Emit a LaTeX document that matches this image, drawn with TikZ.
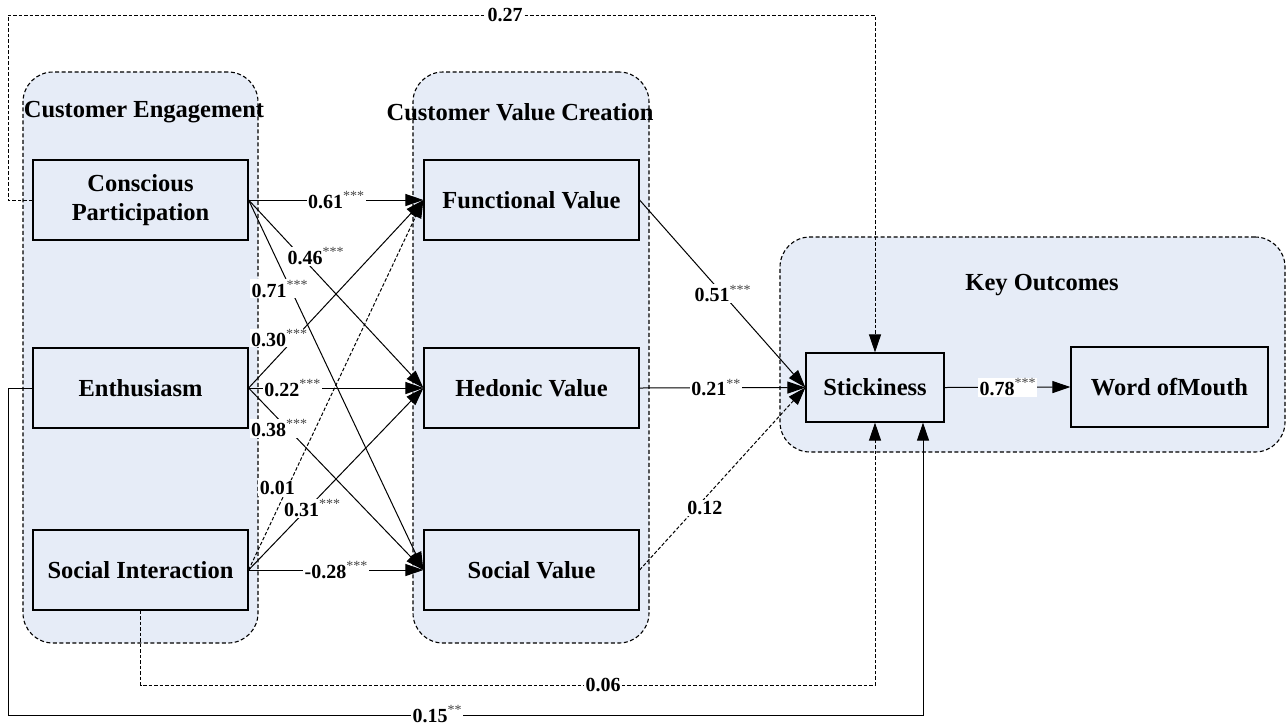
\documentclass[tikz,border=0pt]{standalone}
\usepackage{fontspec}
\setmainfont{Liberation Serif}
\usetikzlibrary{arrows.meta}
\definecolor{grpfill}{RGB}{230,236,247}
\definecolor{stargray}{RGB}{70,70,70}
\newcommand{\sg}[1]{\raisebox{7.5pt}{\fontsize{14}{14}\selectfont\mdseries\color{stargray}#1}}
\begin{document}
\begin{tikzpicture}[x=1pt,y=-1pt,
  grpbox/.style={draw, line width=1.1pt, dash pattern=on 4pt off 2.5pt, fill=grpfill, rounded corners=30pt, inner sep=0pt},
  grptitle/.style={font=\fontsize{24.5}{29}\selectfont\bfseries, inner sep=0pt},
  varbox/.style={draw, line width=1.2pt, fill=grpfill, minimum width=215pt, minimum height=80pt, font=\fontsize{24.5}{29}\selectfont\bfseries, align=center, inner sep=0pt},
  conn/.style={line width=1pt, -{Triangle[length=18pt,width=12pt]}},
  dconn/.style={conn, dash pattern=on 3.5pt off 2pt},
  lbl/.style={fill=white, inner xsep=1.5pt, inner ysep=1pt, font=\fontsize{20}{24}\selectfont\bfseries},
]
\useasboundingbox (0,0) rectangle (1287,724);

% groups
\node[grpbox, minimum width=235pt, minimum height=571pt] (gce) at (140.5,357.5) {};
\node[grpbox, minimum width=236pt, minimum height=571pt] (gcvc) at (531,357.5) {};
\node[grpbox, minimum width=505pt, minimum height=215pt] (gko) at (1032.5,344.5) {};

% group titles
\node[grptitle] (tce) at (144,112) {Customer Engagement};
\node[grptitle] (tcvc) at (520,112) {Customer Value Creation};
\node[grptitle] (tko) at (1042,285) {Key Outcomes};

% variables
\node[varbox] (cp) at (140.5,200) {Conscious\\Participation};
\node[varbox] (en) at (140.5,388) {Enthusiasm};
\node[varbox] (si) at (140.5,570) {Social Interaction};
\node[varbox] (fv) at (531.5,200) {Functional Value};
\node[varbox] (hv) at (531.5,388) {Hedonic Value};
\node[varbox] (sv) at (531.5,570) {Social Value};
\node[varbox, minimum width=138pt, minimum height=69pt] (st) at (875,387.5) {Stickiness};
\node[varbox, minimum width=197pt, minimum height=80pt] (wm) at (1169.5,387) {Word ofMouth};

% helper coordinates
\coordinate (ctop) at (8,15);
\coordinate (cbot) at (8,715);
\coordinate (c06) at (si.south |- 0,685);
\coordinate (st2) at ([xshift=48pt]st.south);

% connectors
\draw[conn] (cp.east) -- (fv.west);
\draw[conn] (cp.east) -- (hv.west);
\draw[conn] (cp.east) -- (sv.west);
\draw[conn] (en.east) -- (fv.west);
\draw[conn] (en.east) -- (hv.west);
\draw[conn] (en.east) -- (sv.west);
\draw[dconn] (si.east) -- (fv.west);
\draw[conn] (si.east) -- (hv.west);
\draw[conn] (si.east) -- (sv.west);
\draw[conn] (fv.east) -- (st.west);
\draw[conn] (hv.east) -- (st.west);
\draw[dconn] (sv.east) -- (st.west);
\draw[conn] (st.east) -- (wm.west);
\draw[dconn] (cp.west) -| (ctop) -| (st.north);
\draw[dconn] (si.south) -- (c06) -| (st.south);
\draw[conn] (en.west) -| (cbot) -| (st2);

% labels
\path (cp.east) -- node[lbl, pos=0.5] (l61) {0.61\sg{***}} (fv.west);
\path (cp.east) -- node[lbl, pos=0.298, xshift=15pt] (l46) {0.46\sg{***}} (hv.west);
\path (cp.east) -- node[lbl, pos=0.24, xshift=-11pt] (l71) {0.71\sg{***}} (sv.west);
\path (en.east) -- node[lbl, pos=0.266, xshift=-16pt] (l30) {0.30\sg{***}} (fv.west);
\path (en.east) -- node[lbl, pos=0.25] (l22) {0.22\sg{***}} (hv.west);
\path (en.east) -- node[lbl, pos=0.22, xshift=-8pt] (l38) {0.38\sg{***}} (sv.west);
\path (si.east) -- node[lbl, pos=0.222, xshift=-10pt] (l01) {0.01} (fv.west);
\path (si.east) -- node[lbl, pos=0.34, xshift=4pt] (l31) {0.31\sg{***}} (hv.west);
\path (si.east) -- node[lbl, pos=0.5] (l28) {-0.28\sg{***}} (sv.west);
\path (fv.east) -- node[lbl, pos=0.5] (l51) {0.51\sg{***}} (st.west);
\path (hv.east) -- node[lbl, pos=0.46] (l21) {0.21\sg{**}} (st.west);
\path (sv.east) -- node[lbl, pos=0.34, xshift=9pt] (l12) {0.12} (st.west);
\path (st.east) -- node[lbl, pos=0.5] (l78) {0.78\sg{***}} (wm.west);
\node[lbl] (l27) at (505,15) {0.27};
\node[lbl] (l06) at (603,685) {0.06};
\node[lbl, inner ysep=0pt] (l15) at (437,714) {0.15\sg{**}};
\end{tikzpicture}
\end{document}
